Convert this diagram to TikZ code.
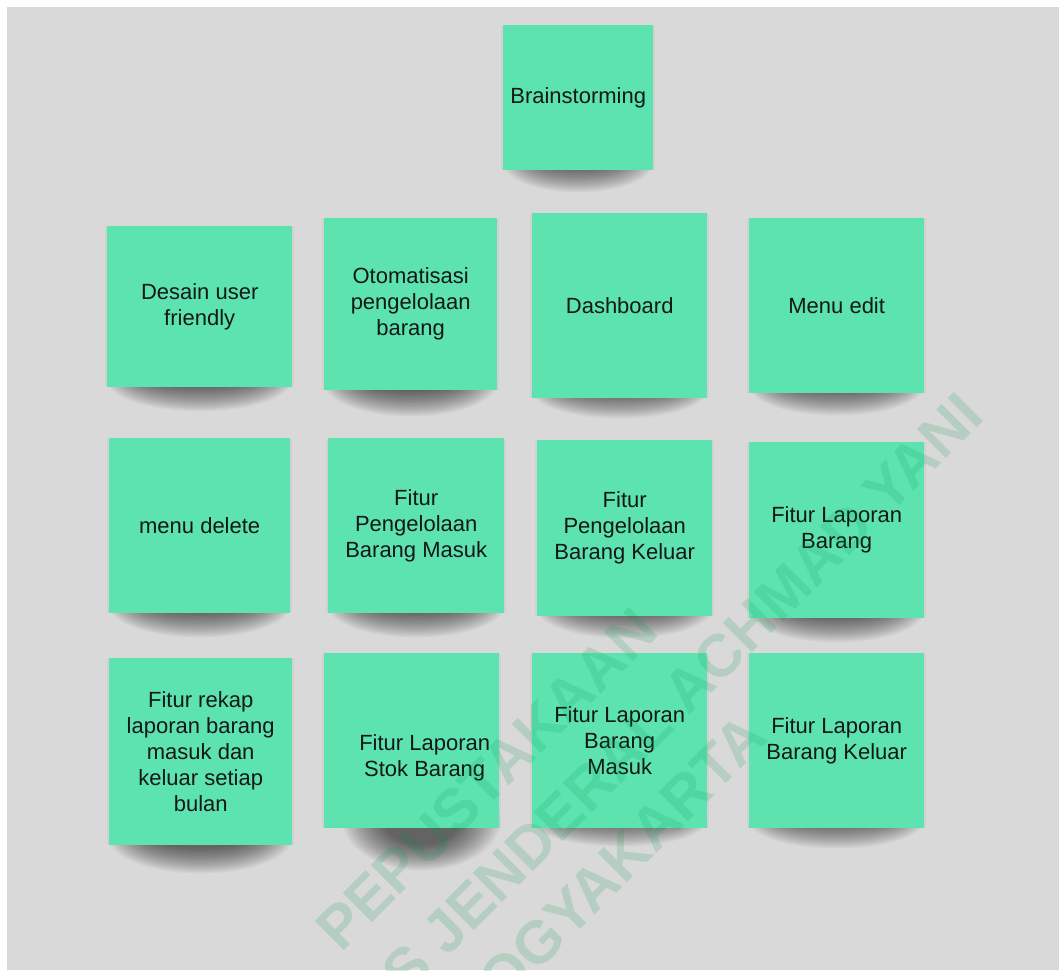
\documentclass[tikz,border=0pt]{standalone}
\usepackage{fontspec}
\setmainfont{Liberation Sans}
\usetikzlibrary{calc}

\definecolor{canvas}{RGB}{217,217,217}
\definecolor{sticky}{RGB}{93,227,176}
\definecolor{ink}{RGB}{20,24,22}
\definecolor{stamp}{RGB}{0,154,79}

\pgfdeclarelayer{backlayer}
\pgfdeclarelayer{shadowlayer}
\pgfsetlayers{backlayer,shadowlayer,main}

\tikzset{
  note/.style={fill=sticky, draw=none, inner sep=4pt, align=center,
    text=ink, anchor=north west, font=\fontsize{22}{26}\selectfont},
  notetext/.style={align=center, text=ink, inner sep=0pt,
    font=\fontsize{22}{26}\selectfont},
  stampline/.style={rotate=45, anchor=base, text=stamp, opacity=0.16,
    inner sep=0pt, font=\fontsize{60}{60}\selectfont\bfseries},
}

% soft paper-lift shadow under a sticky note, built from stacked
% translucent half-ellipses:
% #1 node, #2 depth below the lower edge, #3 width factor, #4 x offset
\newcommand\stickyshadow[4]{%
  \fill[black, opacity=0.035]
    ([xshift=-2pt, yshift=-1pt]#1.north west) rectangle ([xshift=2pt]#1.south east);
  \foreach \k in {0,...,19}{
    \fill[black, opacity=0.037]
      let \p1=(#1.south west), \p2=(#1.south east),
          \n1={(\x2-\x1)/2*#3-2.2pt*\k}, \n2={#2pt+8pt-1.35pt*\k} in
      ([xshift=#4pt, yshift=8pt]#1.south) ellipse [x radius=\n1, y radius=\n2];
  }%
}

\begin{document}
\begin{tikzpicture}[x=1pt, y=-1pt]
\useasboundingbox (0,0) rectangle (1059,970);

\begin{pgfonlayer}{backlayer}
  \fill[white] (0,0) rectangle (1059,970);
  \fill[canvas] (7,7) rectangle (1059,970);
\end{pgfonlayer}

% title note
\node[note, minimum width=150pt, minimum height=145pt] (brain) at (503,25) {Brainstorming};

% first row
\node[note, minimum width=185pt, minimum height=161pt] (desain) at (107,226) {Desain user\\friendly};
\node[note, minimum width=173pt, minimum height=172pt] (otomasi) at (324,218) {Otomatisasi\\pengelolaan\\barang};
\node[note, minimum width=175pt, minimum height=185pt] (dash) at (532,213) {Dashboard};
\node[note, minimum width=175pt, minimum height=175pt] (edit) at (749,218) {Menu edit};

% second row
\node[note, minimum width=181pt, minimum height=175pt] (delete) at (109,438) {menu delete};
\node[note, minimum width=176pt, minimum height=175pt] (masuk) at (328,438) {Fitur\\Pengelolaan\\Barang Masuk};
\node[note, minimum width=175pt, minimum height=176pt] (keluar) at (537,440) {Fitur\\Pengelolaan\\Barang Keluar};
\node[note, minimum width=175pt, minimum height=176pt] (lapbarang) at (749,442) {Fitur Laporan\\Barang};

% third row
\node[note, minimum width=183pt, minimum height=187pt] (rekap) at (109,658) {Fitur rekap\\laporan barang\\masuk dan\\keluar setiap\\bulan};
\node[note, minimum width=175pt, minimum height=175pt] (stok) at (324,653) {};
\node[notetext] (stoktext) at ([xshift=13pt, yshift=-17pt]stok.center) {Fitur Laporan\\Stok Barang};
\node[note, minimum width=175pt, minimum height=175pt] (lapmasuk) at (532,653) {Fitur Laporan\\Barang\\Masuk};
\node[note, minimum width=175pt, minimum height=175pt] (lapkeluar) at (749,653) {Fitur Laporan\\Barang Keluar};

\begin{pgfonlayer}{shadowlayer}
  \stickyshadow{brain}{22}{1.0}{0}
  \stickyshadow{desain}{24}{1.0}{0}
  \stickyshadow{otomasi}{26}{1.0}{0}
  \stickyshadow{dash}{20}{1.0}{0}
  \stickyshadow{edit}{22}{1.0}{0}
  \stickyshadow{delete}{24}{1.0}{0}
  \stickyshadow{masuk}{24}{1.0}{0}
  \stickyshadow{keluar}{22}{1.0}{0}
  \stickyshadow{lapbarang}{24}{1.0}{0}
  \stickyshadow{rekap}{28}{1.0}{0}
  \stickyshadow{stok}{42}{0.9}{10}
  \stickyshadow{lapmasuk}{18}{1.0}{0}
  \stickyshadow{lapkeluar}{20}{1.0}{0}
\end{pgfonlayer}

% library stamp across the lower part
\begin{scope}
  \clip (0,0) rectangle (1059,970);
  \node[stampline] (stamp1) at (501,794) {PEPUSTAKAAN};
  \node[stampline] (stamp2) at (570,835) {UNIVERSITAS JENDERAL ACHMAD YANI};
  \node[stampline] (stamp3) at (622.5,887.5) {YOGYAKARTA};
\end{scope}
\end{tikzpicture}
\end{document}
